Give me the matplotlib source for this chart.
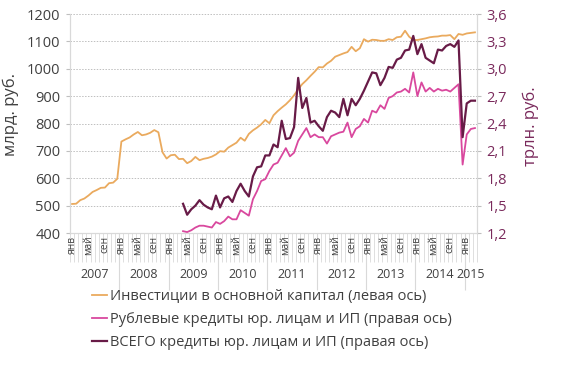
import matplotlib
matplotlib.use("Agg")
import matplotlib.pyplot as plt
import matplotlib.transforms as mtransforms
from matplotlib.lines import Line2D
import numpy as np

plt.rcParams['font.family'] = ['Open Sans', 'DejaVu Sans']

# monthly, Jan 2007 .. Mar 2015
years = ['2007', '2008', '2009', '2010', '2011', '2012', '2013', '2014', '2015']
month_names = {0: 'янв', 4: 'май', 8: 'сен'}

# investments, bn rub (left axis), from Jan 2007
invest = [506, 507, 520, 526, 537, 550, 557, 565, 566, 582, 584, 598,
          734, 742, 749, 760, 769, 757, 760, 766, 776, 768, 695, 672,
          684, 686, 670, 671, 655, 663, 678, 666, 671, 674, 679, 687,
          699, 697, 712, 721, 730, 748, 737, 762, 775, 785, 797, 813,
          801, 830, 845, 858, 870, 885, 903, 925, 944, 958, 974, 989,
          1006, 1005, 1019, 1029, 1044, 1050, 1056, 1061, 1080, 1064, 1075, 1108,
          1099, 1106, 1105, 1102, 1102, 1108, 1105, 1115, 1117, 1139, 1117, 1105,
          1105, 1108, 1111, 1115, 1117, 1118, 1121, 1121, 1123, 1108, 1127, 1124,
          1129, 1131, 1133]

# credits, trn rub (right axis), from Apr 2009
credit_start = 27
rub_credits = [1.22, 1.21, 1.23, 1.26, 1.28, 1.28, 1.27, 1.26, 1.32,
               1.30, 1.33, 1.38, 1.35, 1.35, 1.45, 1.42, 1.39, 1.57, 1.66, 1.77, 1.79,
               1.88, 1.95, 1.97, 2.05, 2.13, 2.04, 2.08, 2.21, 2.28, 2.35, 2.25, 2.28,
               2.25, 2.25, 2.18, 2.26, 2.28, 2.30, 2.31, 2.41, 2.25, 2.34, 2.37, 2.45,
               2.41, 2.54, 2.52, 2.60, 2.56, 2.68, 2.70, 2.74, 2.75, 2.78, 2.74, 2.96,
               2.70, 2.85, 2.75, 2.79, 2.75, 2.78, 2.76, 2.77, 2.75, 2.79, 2.83, 1.95,
               2.28, 2.34, 2.35]
total_credits = [1.52, 1.40, 1.46, 1.50, 1.56, 1.51, 1.48, 1.46, 1.61,
                 1.48, 1.58, 1.60, 1.54, 1.66, 1.74, 1.66, 1.60, 1.82, 1.92, 1.93, 2.05,
                 2.05, 2.17, 2.14, 2.43, 2.23, 2.24, 2.36, 2.90, 2.57, 2.68, 2.41, 2.43,
                 2.37, 2.32, 2.47, 2.54, 2.52, 2.47, 2.67, 2.49, 2.67, 2.60, 2.67, 2.76,
                 2.86, 2.96, 2.95, 2.82, 2.90, 3.02, 3.01, 3.10, 3.12, 3.20, 3.21, 3.36,
                 3.16, 3.27, 3.12, 3.09, 3.06, 3.21, 3.20, 3.25, 3.27, 3.24, 3.31, 2.25,
                 2.62, 2.65, 2.65]

c_inv = '#EAAA5E'
c_rub = '#D9489E'
c_tot = '#681B47'
c_grid = '#BFBFBF'
c_axis = '#D9D9D9'
c_text = '#404040'
c_right = '#7A2A5C'

n = len(invest)
x = np.arange(n)
xc = np.arange(credit_start, credit_start + len(rub_credits))

fig = plt.figure(figsize=(5.76, 3.66), dpi=100)
ax = fig.add_axes([70 / 576, 1 - 233 / 366, 407 / 576, 219 / 366])
ax2 = ax.twinx()

ax.plot(x, invest, color=c_inv, lw=1.3, solid_joinstyle='round')
ax2.plot(xc, rub_credits, color=c_rub, lw=1.3, solid_joinstyle='round')
ax2.plot(xc, total_credits, color=c_tot, lw=1.6, solid_joinstyle='round')

ax.set_xlim(-0.5, n - 0.5)
ax.set_ylim(400, 1200)
ax.set_yticks(np.arange(400, 1201, 100))
ax2.set_ylim(1.2, 3.6)
ax2.set_yticks(np.arange(1.2, 3.61, 0.3))
ax2.set_yticklabels([('%.1f' % v).replace('.', ',') for v in np.arange(1.2, 3.61, 0.3)])

ax.grid(axis='y', color=c_grid, linestyle=(0, (1.5, 1.5)), linewidth=0.7)
ax.set_axisbelow(True)

for a in (ax, ax2):
    for s in a.spines.values():
        s.set_color(c_axis)
    a.spines['top'].set_visible(False)

ax.tick_params(axis='y', length=3, color=c_grid, labelsize=10.5, labelcolor=c_text, pad=4)
ax2.tick_params(axis='y', length=3, color=c_grid, labelsize=10.5, labelcolor=c_right, pad=4)

# month boundary ticks and year separators
ax.set_xticks(np.arange(11.5, n - 1, 12))
ax.set_xticks(np.arange(-0.5, n, 1), minor=True)
ax.tick_params(axis='x', which='minor', length=21, color=c_axis, width=0.6)
ax.tick_params(axis='x', which='major', length=41, color=c_axis, width=0.8, labelbottom=False)

trans = mtransforms.blended_transform_factory(ax.transData, ax.transAxes)
for i in range(n):
    if i % 12 in month_names:
        ax.text(i, -0.012, month_names[i % 12], transform=trans, rotation=90,
                ha='center', va='top', fontsize=7.3, color=c_text)
for k, yr in enumerate(years):
    lo = k * 12 - 0.5
    hi = min(lo + 12, n - 0.5)
    ax.text((lo + hi) / 2, -0.19, yr, transform=trans, ha='center', va='center',
            fontsize=9, color=c_text)

ax.set_ylabel('млрд. руб.', fontsize=12, color=c_text)
ax.yaxis.set_label_coords(-0.125, 0.54)
ax2.set_ylabel('трлн. руб.', fontsize=12, color=c_right, rotation=90)
ax2.yaxis.set_label_coords(1.113, 0.49)

handles = [Line2D([], [], color=c_inv, lw=1.3),
           Line2D([], [], color=c_rub, lw=1.3),
           Line2D([], [], color=c_tot, lw=1.6)]
labels = ['Инвестиции в основной капитал (левая ось)',
          'Рублевые кредиты юр. лицам и ИП (правая ось)',
          'ВСЕГО кредиты юр. лицам и ИП (правая ось)']
fig.legend(handles, labels, loc='upper left', bbox_to_anchor=(92 / 576, 1 - 289 / 366),
           frameon=False, fontsize=10.5, handlelength=1.0, handletextpad=0.2,
           labelspacing=0.55, borderaxespad=0, borderpad=0, labelcolor=c_text)

fig.savefig('out.png', dpi=100)
